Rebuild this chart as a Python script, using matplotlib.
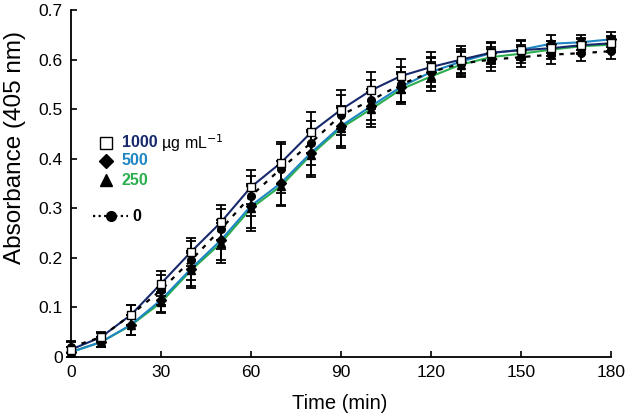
import matplotlib
matplotlib.use("Agg")
import matplotlib.pyplot as plt
from matplotlib.ticker import FixedLocator

plt.rcParams['font.family'] = ['Liberation Sans', 'DejaVu Sans']

time = [0, 10, 20, 30, 40, 50, 60, 70, 80, 90, 100, 110, 120, 130, 140, 150, 160, 170, 180]

abs_1000 = [0.015, 0.040, 0.085, 0.148, 0.212, 0.272, 0.343, 0.392, 0.453, 0.499, 0.538, 0.567, 0.585, 0.600, 0.614, 0.619, 0.623, 0.629, 0.633]
err_1000 = [0.015, 0.008, 0.020, 0.025, 0.028, 0.035, 0.035, 0.042, 0.042, 0.040, 0.038, 0.035, 0.030, 0.028, 0.020, 0.018, 0.015, 0.015, 0.015]

abs_500 = [0.010, 0.030, 0.065, 0.115, 0.178, 0.236, 0.305, 0.351, 0.412, 0.466, 0.506, 0.545, 0.575, 0.596, 0.613, 0.620, 0.632, 0.635, 0.641]
err_500 = [0.010, 0.010, 0.020, 0.025, 0.035, 0.040, 0.045, 0.045, 0.045, 0.040, 0.035, 0.030, 0.028, 0.025, 0.022, 0.020, 0.018, 0.015, 0.015]

abs_250 = [0.010, 0.030, 0.064, 0.110, 0.175, 0.230, 0.300, 0.345, 0.408, 0.462, 0.500, 0.540, 0.566, 0.590, 0.605, 0.612, 0.620, 0.627, 0.630]
err_250 = [0.010, 0.010, 0.020, 0.022, 0.035, 0.040, 0.045, 0.040, 0.045, 0.040, 0.035, 0.030, 0.030, 0.025, 0.020, 0.018, 0.018, 0.015, 0.015]

abs_0 = [0.020, 0.040, 0.085, 0.135, 0.195, 0.258, 0.325, 0.380, 0.432, 0.488, 0.518, 0.550, 0.575, 0.592, 0.600, 0.605, 0.610, 0.613, 0.617]
err_0 = [0.012, 0.010, 0.020, 0.030, 0.040, 0.040, 0.040, 0.050, 0.045, 0.040, 0.040, 0.035, 0.030, 0.025, 0.022, 0.020, 0.018, 0.015, 0.015]

x_ticks = [0, 30, 60, 90, 120, 150, 180]
y_ticks = [0, 0.1, 0.2, 0.3, 0.4, 0.5, 0.6, 0.7]
y_tick_labels = ['0', '0.1', '0.2', '0.3', '0.4', '0.5', '0.6', '0.7']

c1000 = '#17296b'
c500 = '#1e86c2'
c250 = '#2aae4e'

fig = plt.figure(figsize=(6.28, 4.19), dpi=100)
ax = fig.add_axes([0.113, 0.148, 0.86, 0.828])

series = [
    (abs_0, err_0, 'black', 'o', 'black', ':'),
    (abs_250, err_250, c250, '^', 'black', '-'),
    (abs_500, err_500, c500, 'D', 'black', '-'),
    (abs_1000, err_1000, c1000, 's', 'white', '-'),
]

for vals, errs, col, mk, fc, ls in series:
    if ls == ':':
        ax.plot(time, vals, color='black', lw=1.6, ls=(0, (2, 3)), zorder=3, clip_on=False)
    else:
        ax.plot(time, vals, color=col, lw=1.5, zorder=2, clip_on=False)

for vals, errs, col, mk, fc, ls in series:
    ax.errorbar(time, vals, yerr=errs, fmt='none', ecolor='black', elinewidth=1.3,
                capsize=3.5, capthick=1.3, zorder=4, clip_on=False)
    ms = 5 if mk == 'D' else 5.5
    ax.plot(time, vals, ls='none', marker=mk, ms=ms, mfc=fc, mec='black', mew=1.0,
            zorder=5, clip_on=False)

ax.set_xlim(0, 180)
ax.set_ylim(0, 0.7)
ax.xaxis.set_major_locator(FixedLocator(x_ticks))
ax.yaxis.set_major_locator(FixedLocator(y_ticks))
ax.set_yticklabels(y_tick_labels)
for s in ['top', 'right']:
    ax.spines[s].set_visible(False)
for s in ['left', 'bottom']:
    ax.spines[s].set_linewidth(1.3)
ax.tick_params(direction='in', length=4, width=1.2, labelsize=12.5, pad=6)
ax.set_xlabel('Time (min)', fontsize=14.5)
ax.xaxis.set_label_coords(0.498, -0.108)
ax.set_ylabel('Absorbance (405 nm)', fontsize=17.5)
ax.yaxis.set_label_coords(-0.084, 0.604)

# legend (manual)
lx_m = 0.065
lx_t = 0.094
entries = [
    (0.617, 's', 'white', '1000', c1000, 8.5),
    (0.565, 'D', 'black', '500', c500, 7.5),
    (0.510, '^', 'black', '250', c250, 8.5),
]
for yy, mk, fc, lab, col, ms in entries:
    ax.plot([lx_m], [yy], transform=ax.transAxes, marker=mk, ms=ms,
            mfc=fc, mec='black', mew=1.0, clip_on=False, ls='none')
    t = ax.text(lx_t, yy, lab, transform=ax.transAxes, color=col, fontsize=11.5,
                fontweight='bold', va='center', ha='left')
    if lab == '1000':
        ax.annotate(' \u00b5g mL$^{\u22121}$', xycoords=t, xy=(1, 0.5), va='center',
                    ha='left', fontsize=11.5, color='black')

yy0 = 0.406
ax.plot([0.041, 0.106], [yy0, yy0], transform=ax.transAxes, color='black', lw=1.6,
        ls=(0, (1, 1.5)), clip_on=False)
ax.plot([0.074], [yy0], transform=ax.transAxes, marker='o', ms=7, color='black', clip_on=False)
ax.text(0.113, yy0, '0', transform=ax.transAxes, color='black', fontsize=11.5,
        fontweight='bold', va='center', ha='left')

fig.savefig('out.png', dpi=100)
